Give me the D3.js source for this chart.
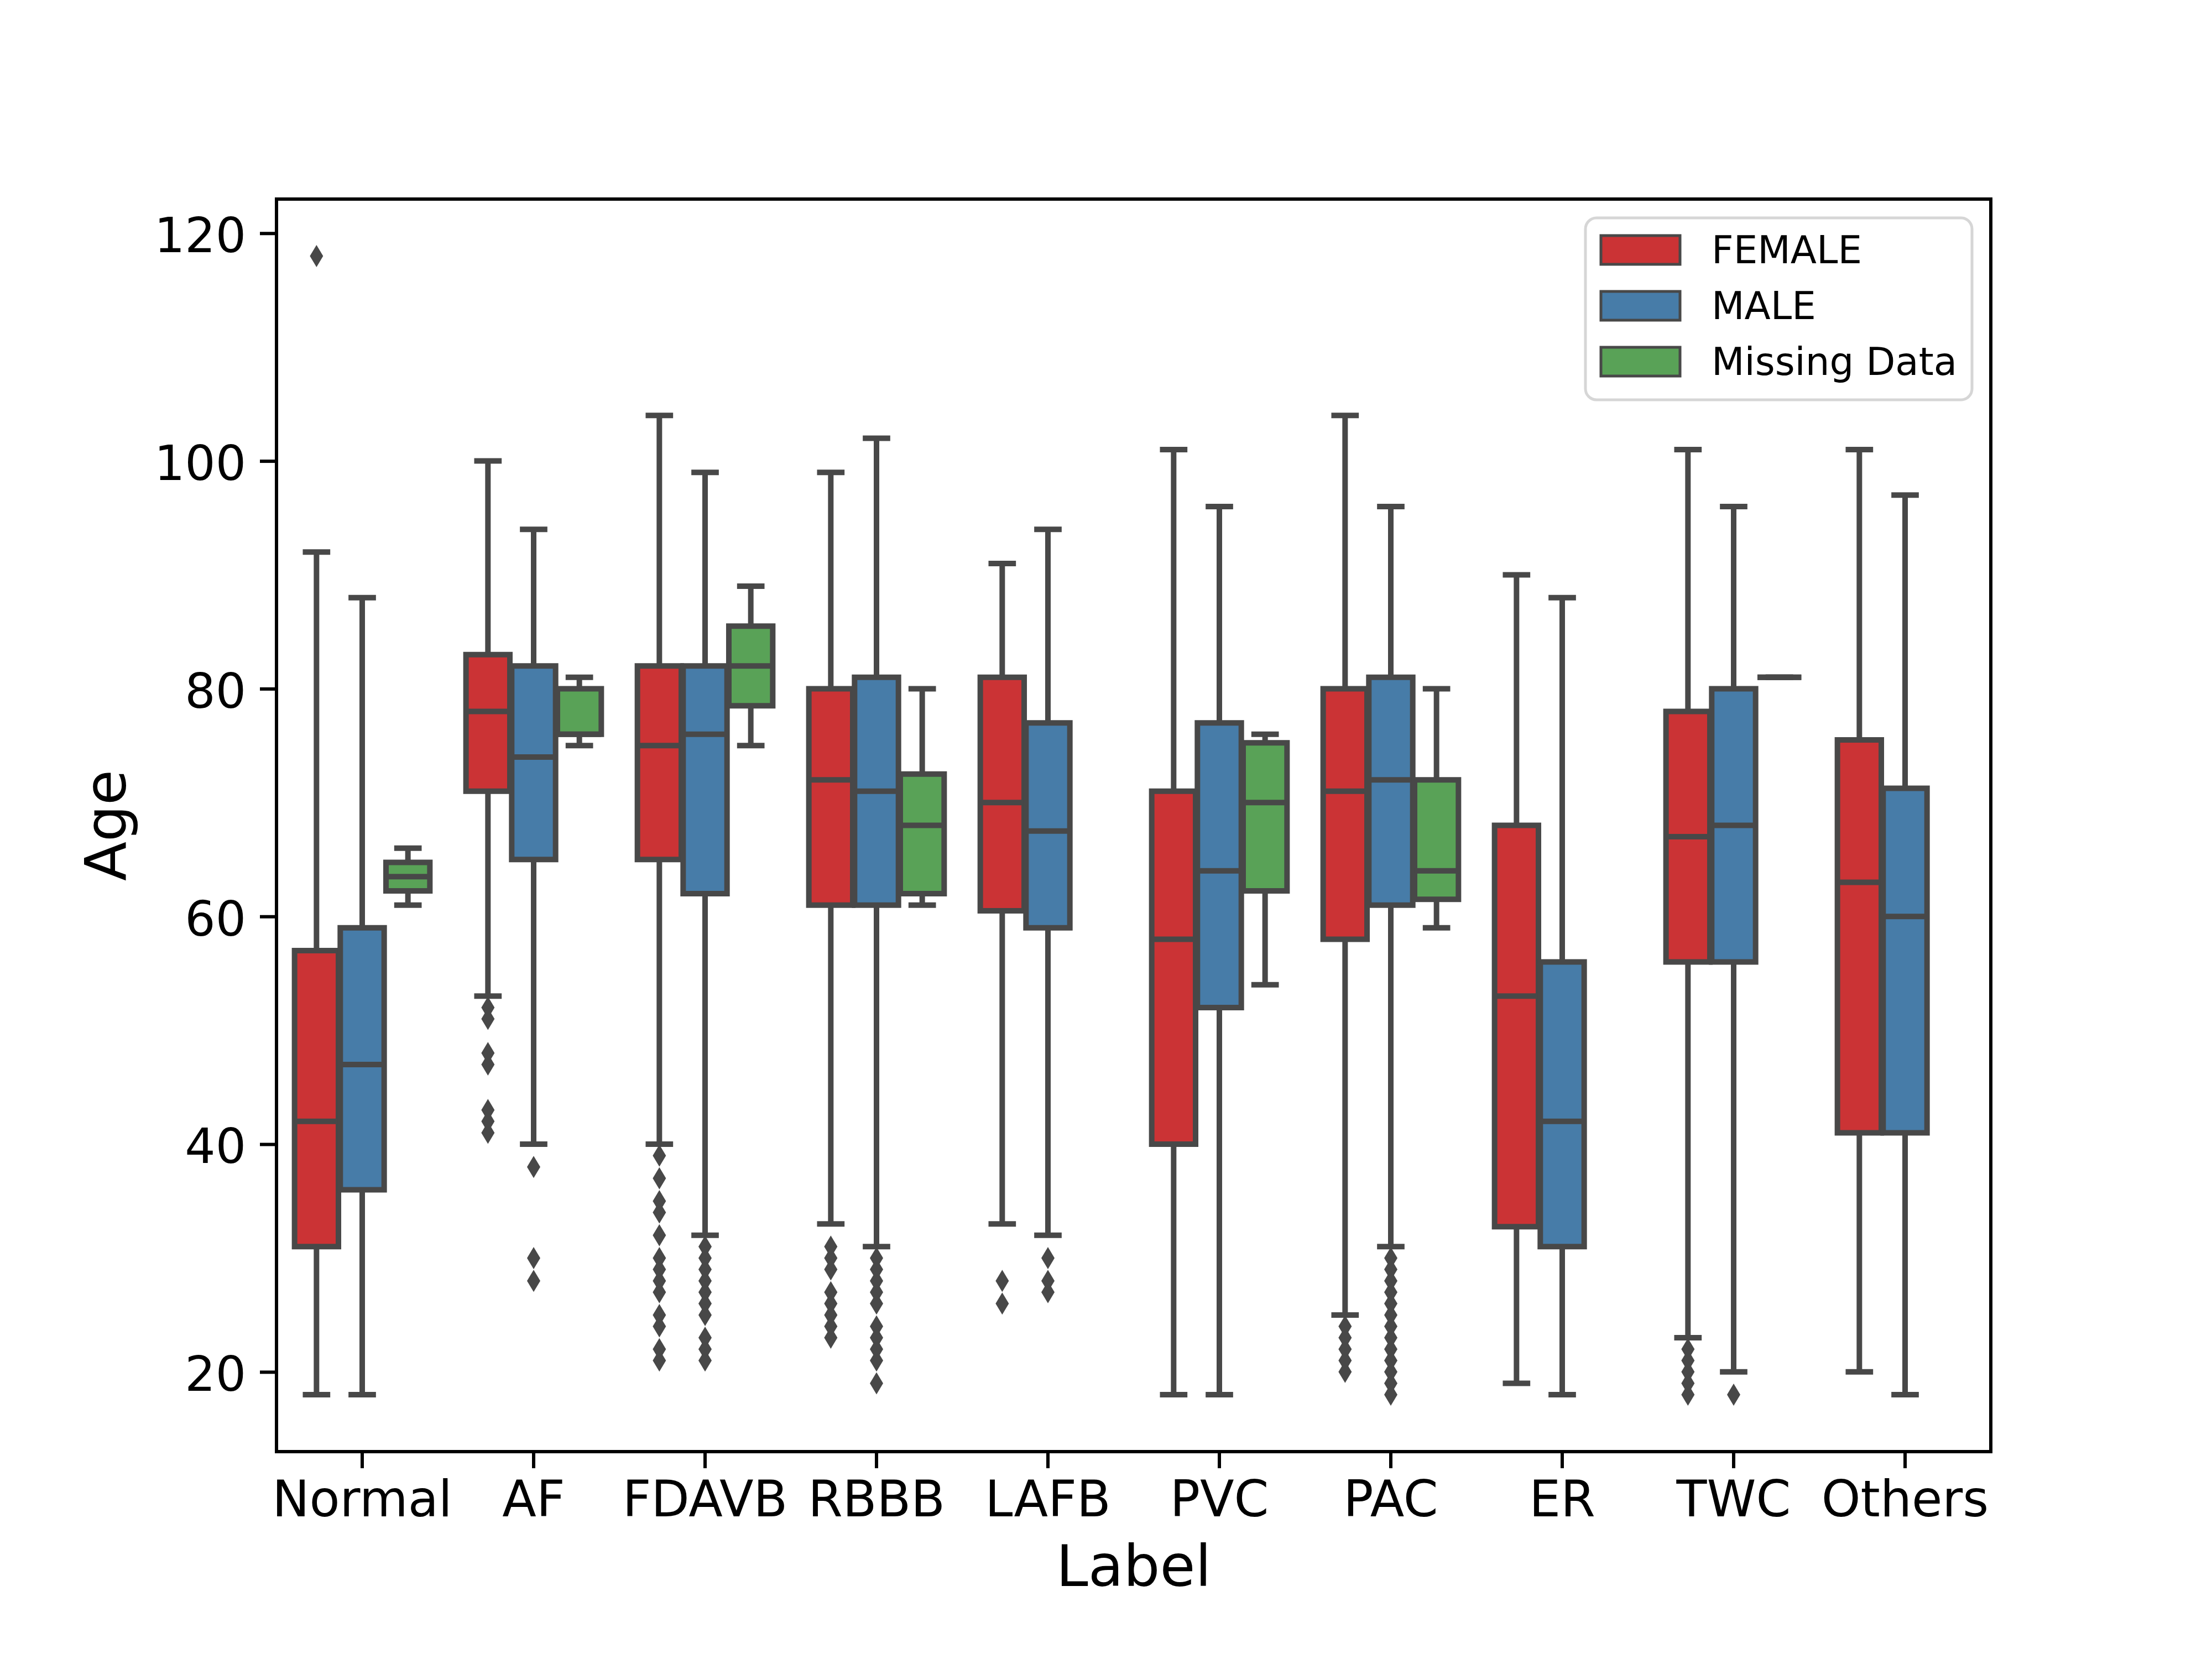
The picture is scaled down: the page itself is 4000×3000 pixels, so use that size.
<!DOCTYPE html>
<html>
<head>
<meta charset="utf-8">
<script src="https://cdn.jsdelivr.net/npm/d3@7"></script>
<style>
  body { margin: 0; background: #fff; }
  svg { display: block; }
</style>
</head>
<body>
<svg id="chart" width="4000" height="3000"></svg>
<script>
const categories = ['Normal', 'AF', 'FDAVB', 'RBBB', 'LAFB', 'PVC', 'PAC', 'ER', 'TWC', 'Others'];
const hues = ['FEMALE', 'MALE', 'Missing Data'];
const yTicks = [20, 40, 60, 80, 100, 120];

// [lower whisker, Q1, median, Q3, upper whisker] per category
const femaleStats = [
  [18, 31, 42, 57, 92],
  [53, 71, 78, 83, 100],
  [40, 65, 75, 82, 104],
  [33, 61, 72, 80, 99],
  [33, 60.5, 70, 81, 91],
  [18, 40, 58, 71, 101],
  [25, 58, 71, 80, 104],
  [19, 32.75, 53, 68, 90],
  [23, 56, 67, 78, 101],
  [20, 41, 63, 75.5, 101],
];
const maleStats = [
  [18, 36, 47, 59, 88],
  [40, 65, 74, 82, 94],
  [32, 62, 76, 82, 99],
  [31, 61, 71, 81, 102],
  [32, 59, 67.5, 77, 94],
  [18, 52, 64, 77, 96],
  [31, 61, 72, 81, 96],
  [18, 31, 42, 56, 88],
  [20, 56, 68, 80, 96],
  [18, 41, 60, 71.25, 97],
];
const missingStats = [
  [61, 62.25, 63.5, 64.75, 66],
  [75, 76, 76, 80, 81],
  [75, 78.5, 82, 85.5, 89],
  [61, 62, 68, 72.5, 80],
  null,
  [54, 62.25, 70, 75.25, 76],
  [59, 61.5, 64, 72, 80],
  null,
  [81, 81, 81, 81, 81],
  null,
];

const femaleOutliers = [
  [118],
  [52, 51, 48, 47, 43, 42, 41],
  [39, 37, 35, 34, 32, 30, 29, 28, 27, 25, 24, 22, 21],
  [31, 30, 29, 27, 26, 25, 24, 23],
  [28, 26],
  [],
  [24, 23, 22, 21, 20],
  [],
  [22, 21, 20, 19, 18],
  [],
];
const maleOutliers = [
  [],
  [38, 30, 28],
  [31, 30, 29, 28, 27, 26, 25, 23, 22, 21],
  [30, 29, 28, 27, 26, 24, 23, 22, 21, 19],
  [30, 28, 27],
  [],
  [30, 29, 28, 27, 26, 25, 24, 23, 22, 21, 20, 19, 18],
  [],
  [18],
  [],
];
const missingOutliers = [[], [], [], [], [], [], [], [], [], []];

const statsByHue = [femaleStats, maleStats, missingStats];
const outliersByHue = [femaleOutliers, maleOutliers, missingOutliers];

const colors = ['#CB3335', '#477CA8', '#59A257'];
const edge = '#484848';
const font = 'DejaVu Sans';
const plot = {
  left: 500, right: 3600, top: 360, bottom: 2625,
};
const lw = 10;

const svg = d3.select('#chart');

svg.append('rect')
  .attr('width', 4000)
  .attr('height', 3000)
  .attr('fill', '#fff');

const x = d3.scaleBand()
  .domain(categories)
  .range([plot.left, plot.right]);

const hueBand = d3.scaleBand()
  .domain(hues)
  .range([-0.4 * x.bandwidth(), 0.4 * x.bandwidth()]);

const y = d3.scaleLinear()
  .domain([13, 123])
  .range([plot.bottom, plot.top]);

const boxW = hueBand.bandwidth() * 0.96;
const capW = boxW * 0.5;

const boxes = svg.append('g').attr('id', 'boxes');

hues.forEach((hue, h) => {
  const rows = categories
    .map((cat, i) => ({ cat, s: statsByHue[h][i], out: outliersByHue[h][i] }))
    .filter((d) => d.s);

  const cx = (d) => x(d.cat) + x.bandwidth() / 2 + hueBand(hue) + hueBand.bandwidth() / 2;

  const g = boxes.selectAll(`.hue${h}`)
    .data(rows)
    .enter()
    .append('g')
    .attr('class', `hue${h}`);

  // whiskers
  g.append('line')
    .attr('x1', cx).attr('x2', cx)
    .attr('y1', (d) => y(d.s[1]))
    .attr('y2', (d) => y(d.s[0]))
    .attr('stroke', edge)
    .attr('stroke-width', lw);
  g.append('line')
    .attr('x1', cx).attr('x2', cx)
    .attr('y1', (d) => y(d.s[3]))
    .attr('y2', (d) => y(d.s[4]))
    .attr('stroke', edge)
    .attr('stroke-width', lw);

  // caps
  [0, 4].forEach((k) => {
    g.append('line')
      .attr('x1', (d) => cx(d) - capW / 2)
      .attr('x2', (d) => cx(d) + capW / 2)
      .attr('y1', (d) => y(d.s[k]))
      .attr('y2', (d) => y(d.s[k]))
      .attr('stroke', edge)
      .attr('stroke-width', lw)
      .attr('stroke-linecap', 'square');
  });

  // box
  g.append('path')
    .attr('d', (d) => {
      const x0 = cx(d) - boxW / 2;
      const x1 = cx(d) + boxW / 2;
      return `M${x0},${y(d.s[1])}H${x1}V${y(d.s[3])}H${x0}Z`;
    })
    .attr('fill', colors[h])
    .attr('stroke', edge)
    .attr('stroke-width', lw);

  // median
  g.append('line')
    .attr('x1', (d) => cx(d) - boxW / 2)
    .attr('x2', (d) => cx(d) + boxW / 2)
    .attr('y1', (d) => y(d.s[2]))
    .attr('y2', (d) => y(d.s[2]))
    .attr('stroke', edge)
    .attr('stroke-width', lw);

  // outliers
  g.selectAll('.flier')
    .data((d) => d.out.map((v) => ({ v, px: cx(d) })))
    .enter()
    .append('path')
    .attr('class', 'flier')
    .attr('d', 'M0,-20L12,0L0,20L-12,0Z')
    .attr('fill', edge)
    .attr('transform', (d) => `translate(${d.px}, ${y(d.v)})`);
});

// axes
const yAxis = svg.append('g')
  .attr('transform', `translate(${plot.left}, 0)`)
  .call(d3.axisLeft(y).tickValues(yTicks).tickSize(30).tickPadding(25).tickSizeOuter(0));

const xAxis = svg.append('g')
  .attr('transform', `translate(0, ${plot.bottom})`)
  .call(d3.axisBottom(x).tickSize(30).tickPadding(23).tickSizeOuter(0));

[yAxis, xAxis].forEach((ax) => {
  ax.select('.domain').remove();
  ax.selectAll('.tick line')
    .attr('stroke', '#000')
    .attr('stroke-width', 6);
  ax.selectAll('.tick text')
    .attr('fill', '#000')
    .attr('font-family', font)
    .attr('font-size', 87);
});
yAxis.selectAll('.tick text').attr('dy', '0.39em');
xAxis.selectAll('.tick text').attr('font-size', 90);

svg.append('rect')
  .attr('x', plot.left)
  .attr('y', plot.top)
  .attr('width', plot.right - plot.left)
  .attr('height', plot.bottom - plot.top)
  .attr('fill', 'none')
  .attr('stroke', '#000')
  .attr('stroke-width', 6);

svg.append('text')
  .attr('transform', `translate(227, ${(plot.top + plot.bottom) / 2}) rotate(-90)`)
  .attr('text-anchor', 'middle')
  .attr('font-family', font)
  .attr('font-size', 104)
  .attr('fill', '#000')
  .text('Age');

svg.append('text')
  .attr('x', (plot.left + plot.right) / 2)
  .attr('y', 2868)
  .attr('text-anchor', 'middle')
  .attr('font-family', font)
  .attr('font-size', 104)
  .attr('fill', '#000')
  .text('Label');

// legend
const legend = svg.append('g').attr('transform', 'translate(2867, 394)');

legend.append('rect')
  .attr('width', 699)
  .attr('height', 329)
  .attr('rx', 20)
  .attr('fill', '#fff')
  .attr('fill-opacity', 0.8)
  .attr('stroke', '#d6d6d6')
  .attr('stroke-width', 5);

const item = legend.selectAll('.item')
  .data(hues)
  .enter()
  .append('g')
  .attr('class', 'item')
  .attr('transform', (d, i) => `translate(0, ${58 + i * 101})`);

item.append('rect')
  .attr('x', 28)
  .attr('y', -26)
  .attr('width', 143)
  .attr('height', 52)
  .attr('fill', (d, i) => colors[i])
  .attr('stroke', edge)
  .attr('stroke-width', 5);

item.append('text')
  .attr('x', 228)
  .attr('y', 24)
  .attr('font-family', font)
  .attr('font-size', 69)
  .attr('fill', '#000')
  .text((d) => d);
</script>
</body>
</html>
